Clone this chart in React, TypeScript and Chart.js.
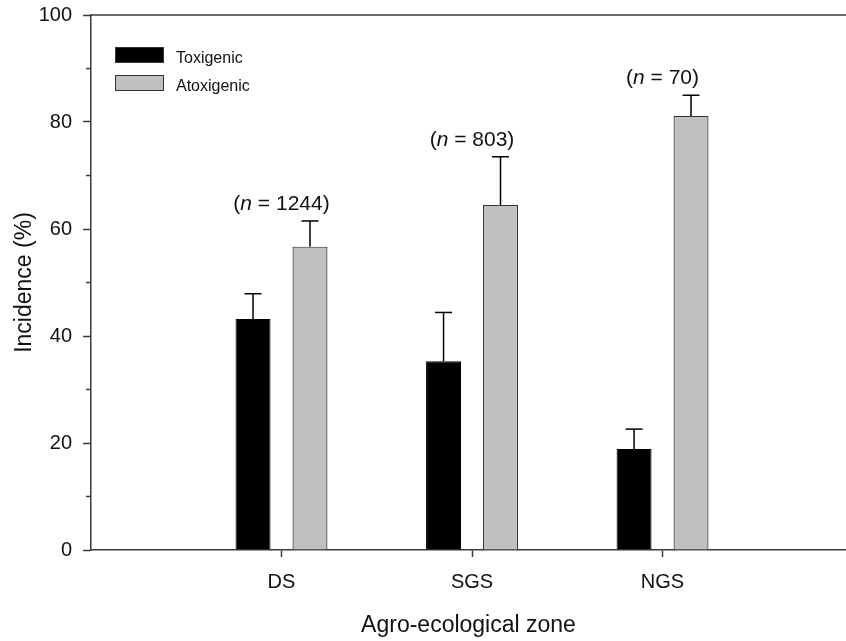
import React, { useEffect, useRef } from 'react';
import { Chart, registerables } from 'chart.js';

Chart.register(...registerables);

// ---- data ----
const categories = ['DS', 'SGS', 'NGS'];
const sampleSizes = [1244, 803, 70];
const toxigenic = [43.2, 35.3, 18.9];
const toxigenicErr = [4.7, 9.1, 3.7];
const atoxigenic = [56.7, 64.5, 81.1];
const atoxigenicErr = [4.8, 9.0, 3.9];
const yMinorTicks = [10, 30, 50, 70, 90];
const seriesNames = ['Toxigenic', 'Atoxigenic'];

const FONT = '"Liberation Sans", Arial, Helvetica, sans-serif';
const AXIS = '#3a3a3a';
const GREY = '#c0c0c0';

const decorPlugin = {
  id: 'decor',
  afterDatasetsDraw(chart: any) {
    const ctx = chart.ctx as CanvasRenderingContext2D;
    const { left, right, top } = chart.chartArea;
    const y = chart.scales.y;
    const x = chart.scales.x;
    const line = (x1: number, y1: number, x2: number, y2: number) => {
      ctx.beginPath();
      ctx.moveTo(x1, y1);
      ctx.lineTo(x2, y2);
      ctx.stroke();
    };
    ctx.save();
    // top frame line
    ctx.strokeStyle = AXIS;
    ctx.lineWidth = 1.5;
    line(left, top, right, top);
    // minor y ticks
    yMinorTicks.forEach((v) => {
      const py = y.getPixelForValue(v);
      line(left - 5, py, left, py);
    });
    // error bars
    const errs = [toxigenicErr, atoxigenicErr];
    ctx.strokeStyle = '#000';
    ctx.lineWidth = 1.5;
    chart.data.datasets.forEach((ds: any, di: number) => {
      const meta = chart.getDatasetMeta(di);
      meta.data.forEach((bar: any, i: number) => {
        const val = ds.data[i].y;
        const ey = y.getPixelForValue(val + errs[di][i]);
        line(bar.x, bar.y, bar.x, ey);
        line(bar.x - 8.5, ey, bar.x + 8.5, ey);
      });
    });
    // n labels
    ctx.fillStyle = '#111';
    ctx.textBaseline = 'alphabetic';
    categories.forEach((c, i) => {
      const cx = x.getPixelForValue(i + 1);
      const by = y.getPixelForValue(atoxigenic[i] + atoxigenicErr[i]) - 11;
      const parts: [string, string][] = [
        ['(', `21px ${FONT}`],
        ['n', `italic 21px ${FONT}`],
        [` = ${sampleSizes[i]})`, `21px ${FONT}`],
      ];
      let total = 0;
      parts.forEach(([t, f]) => {
        ctx.font = f;
        total += ctx.measureText(t).width;
      });
      let px = cx - total / 2;
      ctx.textAlign = 'left';
      parts.forEach(([t, f]) => {
        ctx.font = f;
        ctx.fillText(t, px, by);
        px += ctx.measureText(t).width;
      });
    });
    // legend
    const fills = ['#000', GREY];
    ctx.font = `16px ${FONT}`;
    seriesNames.forEach((name, i) => {
      const bx = left + 24;
      const byTop = top + 32 + i * 28;
      ctx.fillStyle = fills[i];
      ctx.fillRect(bx, byTop, 49, 16);
      ctx.strokeStyle = '#333';
      ctx.lineWidth = 1;
      ctx.strokeRect(bx + 0.5, byTop + 0.5, 48, 15);
      ctx.fillStyle = '#111';
      ctx.fillText(name, left + 85, byTop + 16);
    });
    ctx.restore();
  },
};

export default function App() {
  const ref = useRef<HTMLCanvasElement | null>(null);
  useEffect(() => {
    document.body.style.margin = '0';
    const canvas = ref.current;
    if (!canvas) return;
    const chart = new Chart(canvas, {
      type: 'bar',
      data: {
        datasets: [
          {
            label: seriesNames[0],
            data: toxigenic.map((v, i) => ({ x: i + 1, y: v })),
            backgroundColor: '#000',
            borderColor: '#000',
            borderWidth: 1,
          },
          {
            label: seriesNames[1],
            data: atoxigenic.map((v, i) => ({ x: i + 1, y: v })),
            backgroundColor: GREY,
            borderColor: '#333',
            borderWidth: 1.2,
          },
        ],
      },
      options: {
        animation: false,
        responsive: false,
        devicePixelRatio: 1,
        categoryPercentage: 0.598,
        barPercentage: 0.614,
        layout: { padding: { top: 15, left: 0, right: 0, bottom: 0 } },
        plugins: {
          legend: { display: false },
          tooltip: { enabled: false },
        },
        scales: {
          x: {
            type: 'linear',
            offset: false,
            min: 0,
            max: 3.963,
            afterBuildTicks: (scale: any) => {
              scale.ticks = categories.map((_, i) => ({ value: i + 1 }));
            },
            afterFit: (scale: any) => {
              scale.height = 91;
              scale.paddingLeft = 0;
              scale.paddingRight = 0;
            },
            ticks: {
              callback: (v: any) => categories[Number(v) - 1] ?? '',
              font: { family: FONT, size: 20 },
              color: '#111',
              padding: 13,
              maxRotation: 0,
              autoSkip: false,
            },
            grid: {
              offset: false,
              drawOnChartArea: false,
              drawTicks: true,
              tickLength: 7,
              tickColor: AXIS,
              tickWidth: 1.5,
            },
            border: { display: true, color: AXIS, width: 1.5 },
            title: {
              display: true,
              text: 'Agro-ecological zone',
              font: { family: FONT, size: 23 },
              color: '#111',
              padding: { top: 0, bottom: 2 },
            },
          },
          y: {
            min: 0,
            max: 100,
            afterFit: (scale: any) => {
              scale.width = 91;
              scale.paddingTop = 0;
              scale.paddingBottom = 0;
            },
            ticks: {
              stepSize: 20,
              font: { family: FONT, size: 20 },
              color: '#111',
              padding: 11,
            },
            grid: {
              drawOnChartArea: false,
              drawTicks: true,
              tickLength: 8,
              tickColor: AXIS,
              tickWidth: 1.5,
            },
            border: { display: true, color: AXIS, width: 1.5 },
            title: {
              display: true,
              text: 'Incidence (%)',
              font: { family: FONT, size: 23 },
              color: '#111',
              padding: { top: 11, bottom: 0 },
            },
          },
        },
      },
      plugins: [decorPlugin],
    } as any);
    return () => chart.destroy();
  }, []);
  return (
    <div style={{ width: 846, height: 641 }}>
      <canvas ref={ref} width={846} height={641} style={{ display: 'block' }} />
    </div>
  );
}
